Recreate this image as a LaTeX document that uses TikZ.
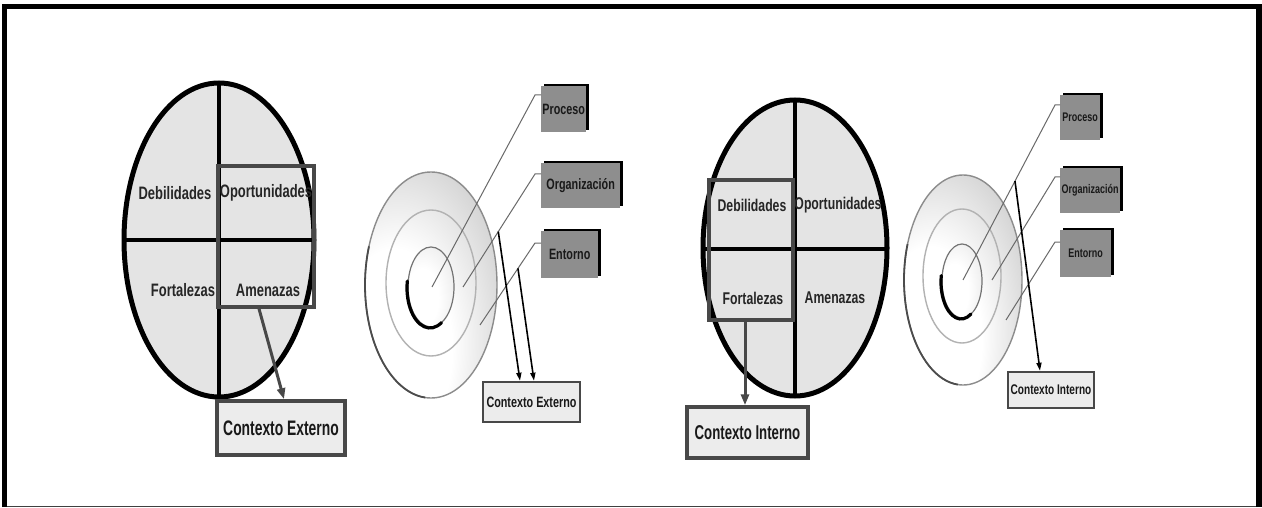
\documentclass[tikz,border=0pt]{standalone}
\usepackage{fontspec}
\setmainfont{Liberation Sans}
\newfontfamily\narrowfont[FakeStretch=0.72]{Liberation Sans}
\newfontfamily\tightfont[FakeStretch=0.66]{Liberation Sans}
\usetikzlibrary{positioning,arrows.meta,shadows,calc}
\definecolor{quad}{RGB}{228,228,228}
\definecolor{frame}{RGB}{72,72,72}
\definecolor{tag}{RGB}{142,142,142}
\definecolor{ctx}{RGB}{236,236,236}
\definecolor{leadline}{RGB}{105,105,105}
\pgfdeclareradialshading{ringshade}{\pgfpoint{-18bp}{-18bp}}{%
  color(0bp)=(white); color(22bp)=(white); color(62bp)=(black!36); color(100bp)=(black!36)}
\pgfdeclareradialshading{coreshade}{\pgfpoint{-12bp}{-8bp}}{%
  color(0bp)=(white); color(18bp)=(white); color(58bp)=(black!16); color(100bp)=(black!16)}
\tikzset{
  quadlab/.style={font=\narrowfont\fontsize{18}{20}\selectfont\bfseries, text=black!85, inner sep=0pt},
  hilite/.style={draw=frame, line width=3.5pt, inner sep=0pt},
  tagbox/.style={fill=tag, inner sep=0pt, anchor=north west, text=black!90,
                 drop shadow={shadow xshift=2.5pt, shadow yshift=2.5pt, fill=black, opacity=1}},
  ctxbox/.style={draw=frame, fill=ctx, inner sep=0pt, text=black!90},
  leader/.style={draw=leadline, line width=1pt},
  call/.style={-{Triangle[length=8pt,width=5pt]}, line width=1.6pt},
}

\begin{document}
\begin{tikzpicture}[x=1pt, y=-1pt,
    bigcall/.style={-{Triangle[length=11pt,width=8pt]}, draw=frame, line width=3pt},
    ring/.style={draw=black!45, line width=1.4pt},
    crescent/.style={line width=3.2pt, line cap=round}]

  \fill[white] (0,0) rectangle (1262,508);
  \useasboundingbox (0,0) rectangle (1262,508);

  % --- first SWOT ellipse (contexto externo)
  \filldraw[fill=quad, line width=5pt] (219,240) ellipse [x radius=95, y radius=157];
  \draw[line width=4.5pt] (219,83) -- (219,397);
  \draw[line width=4.5pt] (124,240) -- (314,240);
  \node[quadlab] (deb1) at (175,193) {Debilidades};
  \node[quadlab] (opo1) at (266,193) {Oportunidades};
  \node[quadlab] (for1) at (183,290) {Fortalezas};
  \node[quadlab] (ame1) at (268,290) {Amenazas};
  \node[hilite, minimum width=96pt, minimum height=141pt] (h1) at (266,236.5) {};
  \node[ctxbox, line width=3.5pt, minimum width=128pt, minimum height=54pt,
        font=\tightfont\fontsize{21}{23}\selectfont\bfseries] (cx1) at (281,428) {Contexto Externo};
  \draw[bigcall] ([xshift=-7pt]h1.south) -- ([xshift=3pt]cx1.north);

  % --- first target
  \shade[shading=ringshade] (431,285) ellipse [x radius=66, y radius=113];
  \draw[ring] (431,285) ellipse [x radius=66, y radius=113];
  \draw[black!70, line width=1.8pt] (431,285) ++(95:66 and 113) arc (95:200:66 and 113);
  \draw[draw=black!30, line width=1.4pt] (431,283) ellipse [x radius=45, y radius=73];
  \shade[shading=coreshade] (431,287) ellipse [x radius=23, y radius=40];
  \draw[black!55, line width=1.2pt] (431,287) ellipse [x radius=23, y radius=40];
  \draw[crescent] (430,288) ++(60:23 and 40) arc (60:190:23 and 40);

  \node[tagbox, minimum width=45pt, minimum height=46pt,
        font=\narrowfont\fontsize{15}{17}\selectfont\bfseries] (p1) at (541,86) {Proceso};
  \node[tagbox, minimum width=79pt, minimum height=45pt,
        font=\narrowfont\fontsize{15}{17}\selectfont\bfseries] (o1) at (541,163) {Organización};
  \node[tagbox, minimum width=57pt, minimum height=47pt,
        font=\narrowfont\fontsize{15}{17}\selectfont\bfseries] (e1) at (541,231) {Entorno};

  \coordinate (l1a) at (432,287);  \coordinate (l1b) at (535,95);
  \coordinate (l2a) at (463,287);  \coordinate (l2b) at (535,174);
  \coordinate (l3a) at (480,325);  \coordinate (l3b) at (535,243);
  \draw[leader] (l1a) -- (l1b) -- (l1b -| p1.west);
  \draw[leader] (l2a) -- (l2b) -- (l2b -| o1.west);
  \draw[leader] (l3a) -- (l3b) -- (l3b -| e1.west);

  \node[ctxbox, line width=2.5pt, minimum width=97pt, minimum height=40pt,
        font=\narrowfont\fontsize{15}{17}\selectfont\bfseries] (cx2) at (531.5,402) {Contexto Externo};
  \coordinate (a1) at ($(l2a)!0.49!(l2b)$);
  \coordinate (a2) at ($(l3a)!0.69!(l3b)$);
  \draw[call] (a1) -- ([xshift=-11.5pt]cx2.north);
  \draw[call] (a2) -- ([xshift=2.5pt]cx2.north);

  % --- second SWOT ellipse (contexto interno)
  \filldraw[fill=quad, line width=5pt] (795,248) ellipse [x radius=92, y radius=148];
  \draw[line width=4.5pt] (795,100) -- (795,396);
  \draw[line width=4.5pt] (703,249) -- (887,249);
  \node[quadlab, font=\narrowfont\fontsize{17}{19}\selectfont\bfseries] (deb2) at (752,205) {Debilidades};
  \node[quadlab, font=\narrowfont\fontsize{17}{19}\selectfont\bfseries] (opo2) at (838,205) {Oportunidades};
  \node[quadlab, font=\narrowfont\fontsize{17}{19}\selectfont\bfseries] (for2) at (753,298) {Fortalezas};
  \node[quadlab, font=\narrowfont\fontsize{17}{19}\selectfont\bfseries] (ame2) at (835,298) {Amenazas};
  \node[hilite, minimum width=84pt, minimum height=140pt] (h2) at (751,250) {};
  \node[ctxbox, line width=3.5pt, minimum width=121pt, minimum height=51pt,
        font=\tightfont\fontsize{20}{22}\selectfont\bfseries] (cx3) at (747.5,432.5) {Contexto Interno};
  \draw[bigcall] ([xshift=-6pt]h2.south) -- ([xshift=-6pt]h2.south |- cx3.north);

  % --- second target
  \shade[shading=ringshade] (963,280) ellipse [x radius=59, y radius=105];
  \draw[ring] (963,280) ellipse [x radius=59, y radius=105];
  \draw[black!70, line width=1.8pt] (963,280) ++(95:59 and 105) arc (95:200:59 and 105);
  \draw[draw=black!30, line width=1.4pt] (962,276) ellipse [x radius=39, y radius=67];
  \shade[shading=coreshade] (962,281) ellipse [x radius=20, y radius=37];
  \draw[black!55, line width=1.2pt] (962,281) ellipse [x radius=20, y radius=37];
  \draw[crescent] (961,282) ++(60:20 and 37) arc (60:190:20 and 37);

  \node[tagbox, minimum width=40pt, minimum height=45pt,
        font=\narrowfont\fontsize{12.5}{14}\selectfont\bfseries] (p2) at (1060,95) {Proceso};
  \node[tagbox, minimum width=60pt, minimum height=45pt,
        font=\narrowfont\fontsize{12.5}{14}\selectfont\bfseries] (o2) at (1060,168) {Organización};
  \node[tagbox, minimum width=51pt, minimum height=47pt,
        font=\narrowfont\fontsize{12.5}{14}\selectfont\bfseries] (e2) at (1060,230) {Entorno};

  \coordinate (m1a) at (963,280);   \coordinate (m1b) at (1055,105);
  \coordinate (m2a) at (992,280);   \coordinate (m2b) at (1055,177);
  \coordinate (m3a) at (1006,320);  \coordinate (m3b) at (1055,242);
  \draw[leader] (m1a) -- (m1b) -- (m1b -| p2.west);
  \draw[leader] (m2a) -- (m2b) -- (m2b -| o2.west);
  \draw[leader] (m3a) -- (m3b) -- (m3b -| e2.west);

  \node[ctxbox, line width=2.5pt, minimum width=86pt, minimum height=36pt,
        font=\narrowfont\fontsize{14}{16}\selectfont\bfseries] (cx4) at (1051,390) {Contexto Interno};
  \coordinate (b1) at ($(m1a)!0.565!(m1b)$);
  \draw[call] (b1) -- ([xshift=-11pt]cx4.north);

  % --- outer frame
  \draw[black!75, line width=1.5pt] (4,506.5) -- (1259,506.5);
  \draw[line width=5.5pt] (4.5,507) -- (4.5,6.5) -- (1259,6.5) -- (1259,507);
\end{tikzpicture}
\end{document}
